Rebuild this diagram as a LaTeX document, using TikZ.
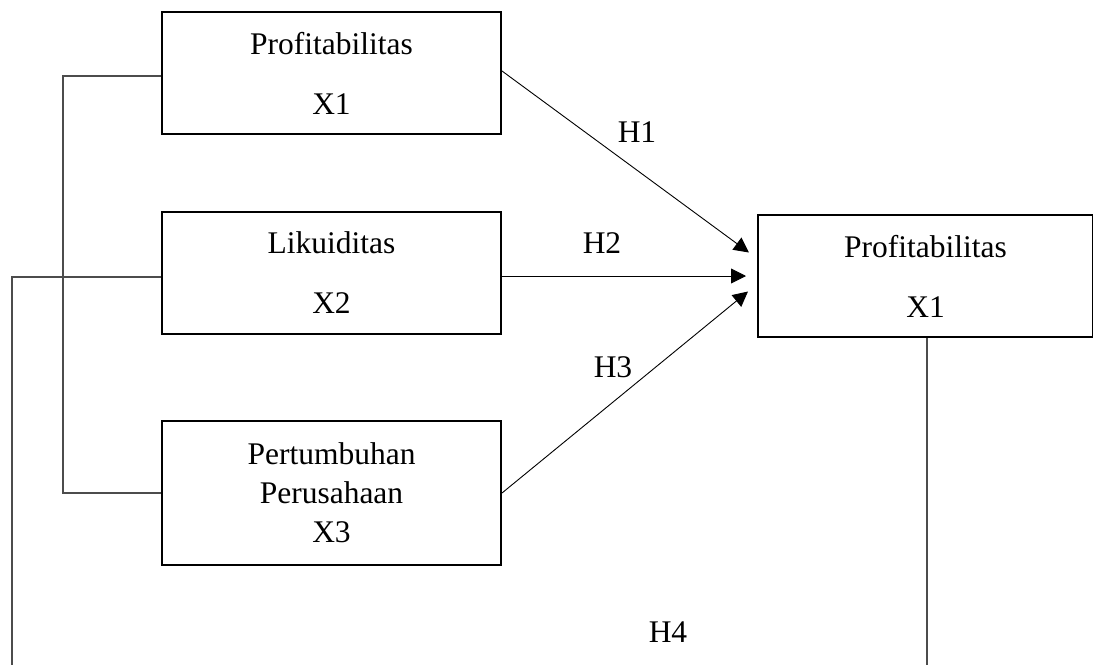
\documentclass[tikz,border=0pt]{standalone}
\usepackage{fontspec}
\setmainfont{Liberation Serif}
\usetikzlibrary{positioning,arrows.meta}
\tikzset{varbox/.style={draw=black, line width=2pt, minimum width=339pt, minimum height=122pt,
  align=center, font=\fontsize{31.5}{39}\selectfont}}
\tikzset{link/.style={draw=black!70, line width=1.2pt}}
\tikzset{hyparrow/.style={-{Triangle[length=15pt,width=15pt]}, line width=0.9pt}}
\tikzset{hyp/.style={font=\fontsize{31.5}{36}\selectfont}}

\begin{document}
\begin{tikzpicture}[x=1pt,y=1pt,node distance=76pt]
  \useasboundingbox (0,0) rectangle (1093,-665);
  % Independent variables, stacked on the left
  \node[varbox] (prof1) at (331.5,-73) {Profitabilitas\\[21pt]X1};
  \node[varbox] (lik) [below = of prof1] {Likuiditas\\[21pt]X2};
  \node[varbox, minimum height=144pt] (pert) [below = 85pt of lik]
    {Pertumbuhan\\Perusahaan\\X3};
  % Dependent variable on the right
  \node[varbox, minimum width=335pt] (prof2) [right = 255pt of lik, yshift=-3pt]
    {Profitabilitas\\[21pt]X1};

  % bracket joining X1 and X3, and the open lines running off the bottom
  \coordinate (bend) at (63,0);
  \coordinate (lend) at (12,-665);
  \coordinate (rend) at (927,-665);
  \draw[link] ([yshift=-3pt]prof1.west) -| (bend |- pert.west) -- (pert.west);
  \draw[link] ([yshift=-4pt]lik.west) -| (lend);
  \draw[link] (rend |- prof2.south) -- (rend);

  % hypotheses
  \draw[hyparrow] ([yshift=2pt]prof1.east) -- ([xshift=-8pt,yshift=23.5pt]prof2.west);
  \draw[hyparrow] (prof2.west -| lik.east) -- ([xshift=-11pt]prof2.west);
  \draw[hyparrow] (pert.east) -- ([xshift=-9pt,yshift=-15.5pt]prof2.west);
  \node[hyp] (h1) at (637,-132) {H1};
  \node[hyp] (h2) at (602,-243) {H2};
  \node[hyp] (h3) at (613,-367) {H3};
  \node[hyp] (h4) at (668,-632) {H4};
\end{tikzpicture}
\end{document}
